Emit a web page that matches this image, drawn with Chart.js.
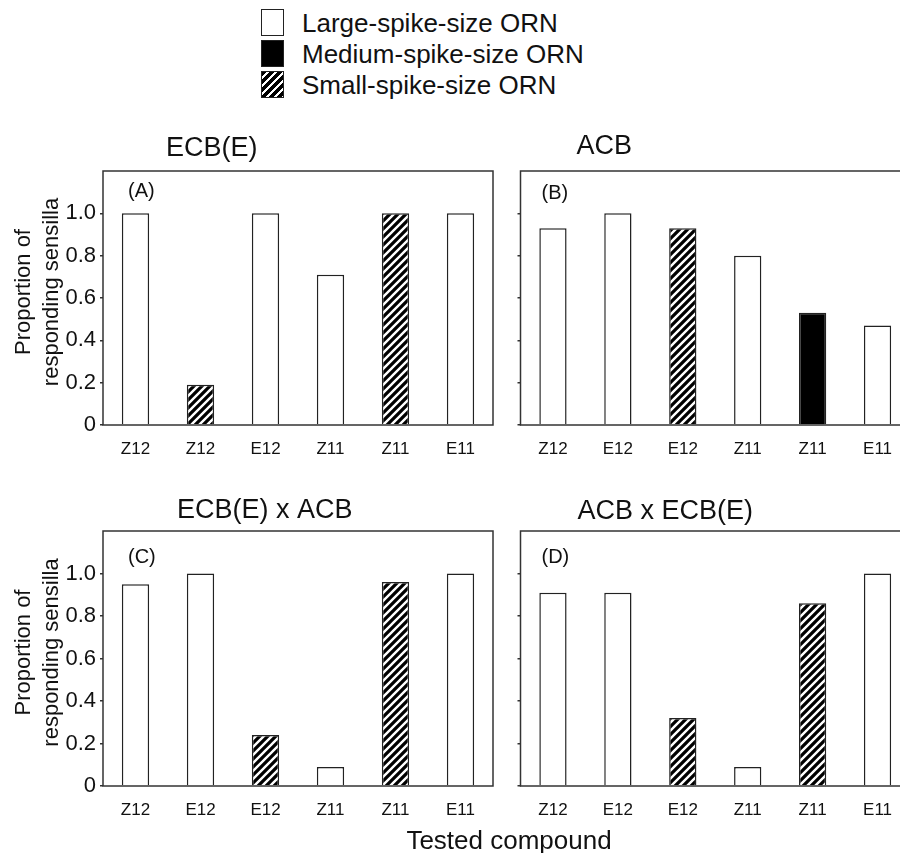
<!DOCTYPE html>
<html>
<head>
<meta charset="utf-8">
<script src="https://cdn.jsdelivr.net/npm/chart.js@4.4.1/dist/chart.umd.min.js"></script>
<style>
  html, body {
    margin: 0;
    padding: 0;
    width: 900px;
    height: 853px;
    overflow: hidden;
    background: #fff;
    font-family: "Liberation Sans", Arial, sans-serif;
    color: #111;
  }
  canvas { position: absolute; }
  .key { position: absolute; left: 261px; height: 28px; line-height: 28px; font-size: 26px; white-space: nowrap; }
  .key .sw { position: absolute; left: 0; top: 0; width: 21px; height: 25px; border: 1.5px solid #222; }
  .key .txt { position: absolute; left: 41px; top: 0; }
  #xTitle { position: absolute; left: 309px; width: 400px; top: 825px; line-height: 30px; text-align: center; font-size: 26px; z-index: 2; }
</style>
</head>
<body>

<div class="key" style="top:9px"><span class="sw" style="background:#fff"></span><span class="txt">Large-spike-size ORN</span></div>
<div class="key" style="top:40px"><span class="sw" style="background:#000"></span><span class="txt">Medium-spike-size ORN</span></div>
<div class="key" style="top:71px"><span class="sw" style="background:repeating-linear-gradient(135deg, #000 0 3.5px, #fff 3.5px 5.6px)"></span><span class="txt">Small-spike-size ORN</span></div>

<canvas id="panelA" width="510" height="350" style="left:0;top:120px"></canvas>
<canvas id="panelB" width="420" height="350" style="left:505px;top:120px"></canvas>
<canvas id="panelC" width="510" height="360" style="left:0;top:480px"></canvas>
<canvas id="panelD" width="420" height="360" style="left:505px;top:480px"></canvas>

<div id="xTitle">Tested compound</div>

<script>
// L = large spike (white), M = medium spike (black), S = small spike (hatched)
const catsA = ["Z12", "Z12", "E12", "Z11", "Z11", "E11"];
const valuesA = [1.0, 0.19, 1.0, 0.71, 1.0, 1.0];
const typesA = ["L", "S", "L", "L", "S", "L"];

const catsB = ["Z12", "E12", "E12", "Z11", "Z11", "E11"];
const valuesB = [0.93, 1.0, 0.93, 0.8, 0.53, 0.47];
const typesB = ["L", "L", "S", "L", "M", "L"];

const catsC = ["Z12", "E12", "E12", "Z11", "Z11", "E11"];
const valuesC = [0.95, 1.0, 0.24, 0.09, 0.96, 1.0];
const typesC = ["L", "L", "S", "L", "S", "L"];

const catsD = ["Z12", "E12", "E12", "Z11", "Z11", "E11"];
const valuesD = [0.91, 0.91, 0.32, 0.09, 0.86, 1.0];
const typesD = ["L", "L", "S", "L", "S", "L"];

const yTickValues = [0, 0.2, 0.4, 0.6, 0.8, 1.0];
const yTitle = ["Proportion of", "responding sensilla"];

const FONT = '"Liberation Sans", Arial, sans-serif';

function hatch(ctx) {
  const c = document.createElement("canvas");
  c.width = 8;
  c.height = 8;
  const g = c.getContext("2d");
  g.fillStyle = "#000";
  g.fillRect(0, 0, 8, 8);
  g.strokeStyle = "#fff";
  g.lineWidth = 2.4;
  g.beginPath();
  g.moveTo(0, 8); g.lineTo(8, 0);
  g.moveTo(-2, 2); g.lineTo(2, -2);
  g.moveTo(6, 10); g.lineTo(10, 6);
  g.stroke();
  return ctx.createPattern(c, "repeat");
}

// frame round the plot area, panel title, panel letter, y title
const panelText = {
  id: "panelText",
  afterDraw(chart, args, o) {
    const { ctx, chartArea: a } = chart;
    ctx.save();
    ctx.strokeStyle = "#333";
    ctx.lineWidth = 1.5;
    ctx.strokeRect(a.left, a.top, a.right - a.left, a.bottom - a.top);

    ctx.fillStyle = "#111";
    ctx.textBaseline = "middle";
    ctx.textAlign = "left";
    ctx.font = "27px " + FONT;
    ctx.fillText(o.title, a.left + o.titleDx, a.top + o.titleDy);
    ctx.font = "20px " + FONT;
    ctx.fillText(o.letter, a.left + o.letterDx, a.top + o.letterDy);

    if (o.yTitle) {
      ctx.font = "22px " + FONT;
      ctx.textAlign = "center";
      ctx.translate(a.left, (a.top + a.bottom) / 2 - 6);
      ctx.rotate(-Math.PI / 2);
      ctx.fillText(yTitle[0], 0, -79);
      ctx.fillText(yTitle[1], 0, -51);
    }
    ctx.restore();
  },
};

function makePanel(id, labels, values, types, opts) {
  const ctx = document.getElementById(id).getContext("2d");
  const fills = { L: "#ffffff", M: "#000000", S: hatch(ctx) };
  return new Chart(ctx, {
    type: "bar",
    data: {
      labels: labels,
      datasets: [
        {
          data: values,
          backgroundColor: types.map((t) => fills[t]),
          borderColor: "#222",
          borderWidth: 1.5,
          barPercentage: 0.42,
          categoryPercentage: 1,
        },
      ],
    },
    options: {
      responsive: false,
      animation: false,
      layout: { padding: { top: 51, right: opts.padRight, left: 0, bottom: 0 } },
      plugins: {
        legend: { display: false },
        tooltip: { enabled: false },
        panelText: opts.text,
      },
      scales: {
        x: {
          grid: { display: false, drawTicks: false },
          border: { display: false },
          ticks: { color: "#111", font: { size: 17, family: FONT }, padding: 14, maxRotation: 0, autoSkip: false },
          afterFit: (s) => { s.height = opts.xHeight; },
        },
        y: {
          min: 0,
          max: 1.2,
          grid: { drawOnChartArea: false, tickLength: 3, tickColor: "#333", lineWidth: 1.5 },
          border: { display: false },
          ticks: {
            color: "#111",
            padding: 4,
            font: { size: 22, family: FONT },
            callback: (v) => (opts.showY ? (v === 0 ? "0" : v.toFixed(1)) : ""),
          },
          afterBuildTicks: (s) => {
            s.ticks = yTickValues.map((v) => ({ value: v }));
          },
          afterFit: (s) => { s.width = opts.yWidth; },
        },
      },
    },
    plugins: [panelText],
  });
}

makePanel("panelA", catsA, valuesA, typesA, {
  padRight: 17, xHeight: 45, yWidth: 103, showY: true,
  text: { title: "ECB(E)", titleDx: 63, titleDy: -22, letter: "(A)", letterDx: 25, letterDy: 20, yTitle: true },
});
makePanel("panelB", catsB, valuesB, typesB, {
  padRight: 15, xHeight: 45, yWidth: 15.5, showY: false,
  text: { title: "ACB", titleDx: 56, titleDy: -24, letter: "(B)", letterDx: 21, letterDy: 22, yTitle: false },
});
makePanel("panelC", catsC, valuesC, typesC, {
  padRight: 17, xHeight: 54, yWidth: 103, showY: true,
  text: { title: "ECB(E) x ACB", titleDx: 74, titleDy: -20, letter: "(C)", letterDx: 25, letterDy: 26, yTitle: true },
});
makePanel("panelD", catsD, valuesD, typesD, {
  padRight: 15, xHeight: 54, yWidth: 15.5, showY: false,
  text: { title: "ACB x ECB(E)", titleDx: 57, titleDy: -19, letter: "(D)", letterDx: 21, letterDy: 26, yTitle: false },
});
</script>
</body>
</html>
